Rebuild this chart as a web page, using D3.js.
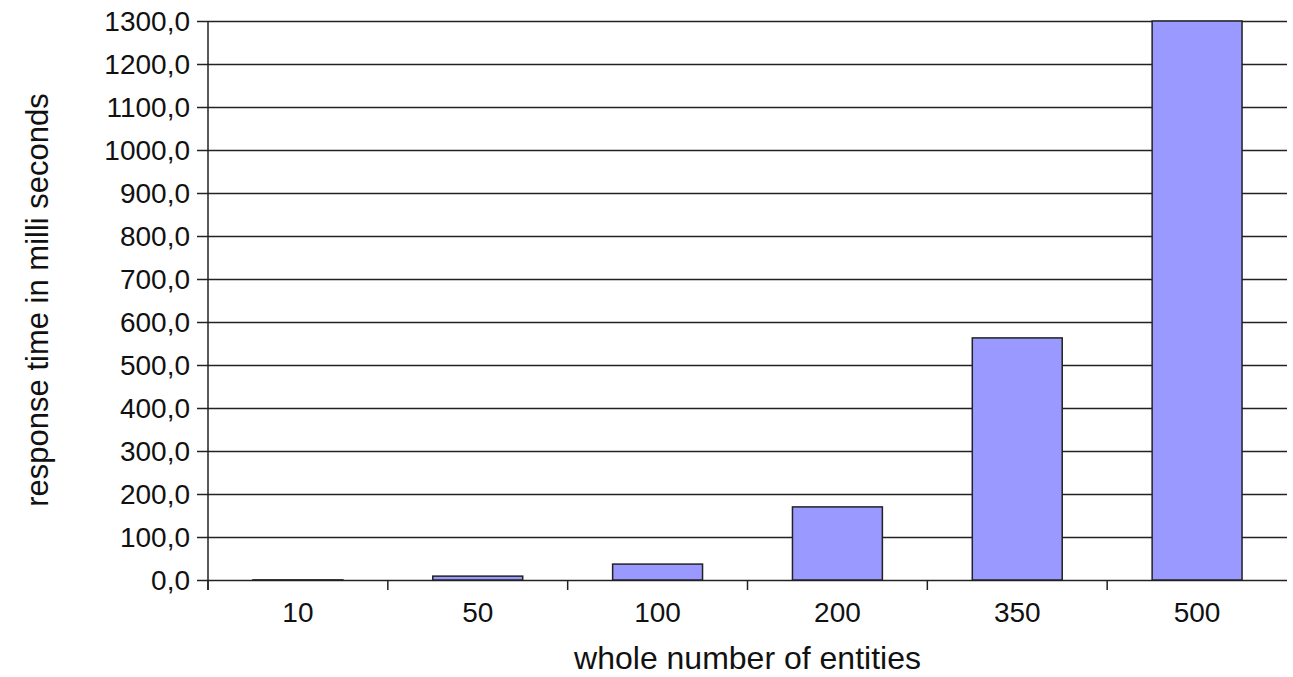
<!DOCTYPE html>
<html>
<head>
<meta charset="utf-8">
<script src="https://cdn.jsdelivr.net/npm/d3@7"></script>
<style>
  body { margin: 0; background: #fff; }
  svg text { font-family: "Liberation Sans", Arial, sans-serif; fill: #111; }
</style>
</head>
<body>
<svg id="chart" width="1293" height="677"></svg>
<script>
// entity counts and response times (ms)
const categories = ["10", "50", "100", "200", "350", "500"];
const responseTimes = [0.3, 9, 37, 170, 563, 1300];
const yTicks = d3.range(0, 1301, 100);

const svg = d3.select("#chart");
const margin = {top: 21, right: 6, bottom: 97, left: 208};
const W = 1293, H = 677;

const x = d3.scaleBand()
    .domain(categories)
    .range([margin.left, W - margin.right])
    .paddingInner(0.5)
    .paddingOuter(0.25);

const y = d3.scaleLinear()
    .domain([0, 1300])
    .range([H - margin.bottom, margin.top]);

// gridlines + y ticks
const yAxis = svg.append("g")
    .attr("transform", "translate(" + margin.left + ",0)")
    .call(d3.axisLeft(y)
        .tickValues(yTicks)
        .tickSize(11)
        .tickPadding(7)
        .tickFormat(d => d3.format(".1f")(d).replace(".", ",")));
yAxis.attr("font-family", null).attr("font-size", null);
yAxis.select(".domain").remove();
yAxis.selectAll(".tick line").attr("stroke", "#222").attr("stroke-width", 1.5)
    .attr("x2", W - margin.right - margin.left).attr("x1", -11);
yAxis.selectAll(".tick text").style("font-size", "28px").attr("dy", "0.35em");

// bars
svg.append("g").selectAll("rect")
    .data(categories)
    .join("rect")
    .attr("x", d => x(d))
    .attr("width", x.bandwidth())
    .attr("y", (d, i) => y(responseTimes[i]))
    .attr("height", (d, i) => y(0) - y(responseTimes[i]))
    .attr("fill", "#9999ff")
    .attr("stroke", "#222")
    .attr("stroke-width", 1.5);

// x axis
const xAxis = svg.append("g")
    .attr("transform", "translate(0," + y(0) + ")")
    .call(d3.axisBottom(x).tickSize(0).tickPadding(22));
xAxis.attr("font-family", null).attr("font-size", null);
xAxis.select(".domain").remove();
xAxis.selectAll(".tick text").style("font-size", "28px");

// category separator ticks
const plotW = W - margin.right - margin.left;
svg.append("g").selectAll("line")
    .data(d3.range(categories.length))
    .join("line")
    .attr("x1", i => margin.left + i * plotW / categories.length)
    .attr("x2", i => margin.left + i * plotW / categories.length)
    .attr("y1", y(0))
    .attr("y2", y(0) + 10)
    .attr("stroke", "#222")
    .attr("stroke-width", 1.5);

// y axis line
svg.append("line")
    .attr("x1", margin.left).attr("x2", margin.left)
    .attr("y1", y(1300)).attr("y2", y(0) + 10)
    .attr("stroke", "#222").attr("stroke-width", 1.5);

// titles
svg.append("text")
    .attr("x", (margin.left + W - margin.right) / 2)
    .attr("y", 669)
    .attr("text-anchor", "middle")
    .style("font-size", "32px")
    .text("whole number of entities");

svg.append("text")
    .attr("transform", "translate(48,300) rotate(-90)")
    .attr("text-anchor", "middle")
    .style("font-size", "31px")
    .text("response time in milli seconds");
</script>
</body>
</html>
